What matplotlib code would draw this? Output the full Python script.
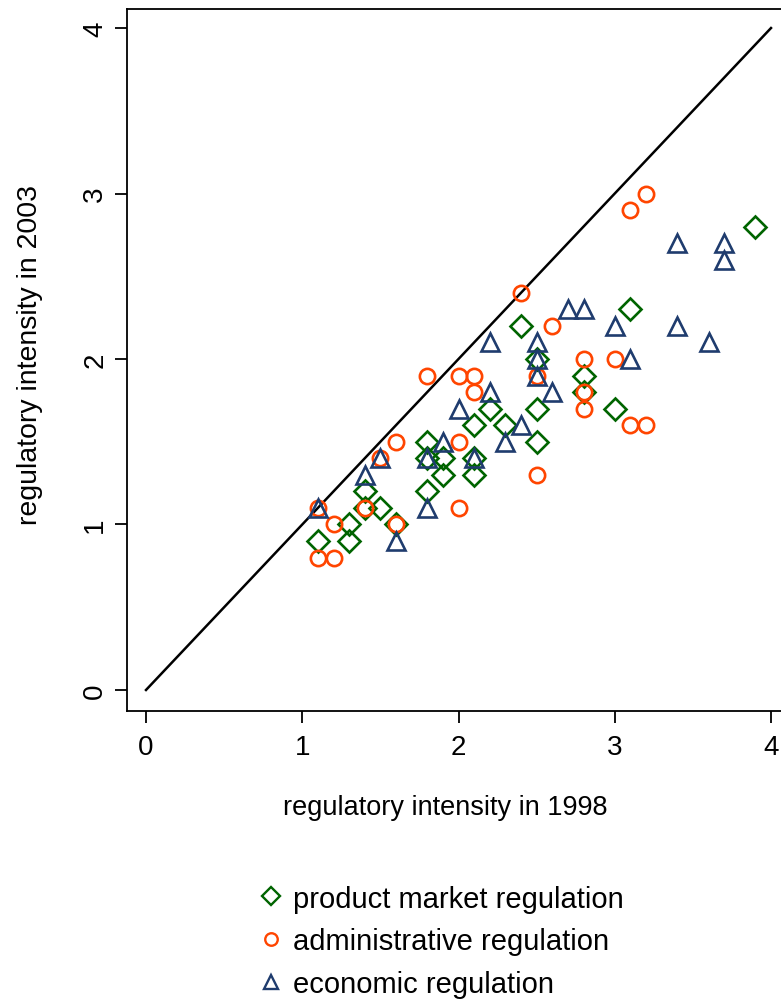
import matplotlib
matplotlib.use("Agg")
import matplotlib.pyplot as plt
from matplotlib.lines import Line2D

plt.rcParams['font.family'] = ['Liberation Sans', 'DejaVu Sans']

# product market regulation (diamonds)
prod_x = [1.1, 1.3, 1.3, 1.4, 1.4, 1.5, 1.6, 1.8, 1.8, 1.8, 1.9, 1.9, 2.1, 2.1, 2.1,
          2.2, 2.3, 2.4, 2.5, 2.5, 2.5, 2.8, 2.8, 3.0, 3.1, 3.9]
prod_y = [0.9, 1.0, 0.9, 1.2, 1.1, 1.1, 1.0, 1.2, 1.5, 1.4, 1.4, 1.3, 1.6, 1.4, 1.3,
          1.7, 1.6, 2.2, 2.0, 1.7, 1.5, 1.9, 1.8, 1.7, 2.3, 2.8]

# administrative regulation (circles)
adm_x = [1.1, 1.1, 1.2, 1.2, 1.4, 1.5, 1.6, 1.6, 1.8, 2.0, 2.0, 2.0, 2.1, 2.1, 2.4,
         2.5, 2.5, 2.6, 2.8, 2.8, 2.8, 3.0, 3.1, 3.1, 3.2, 3.2]
adm_y = [1.1, 0.8, 0.8, 1.0, 1.1, 1.4, 1.5, 1.0, 1.9, 1.9, 1.5, 1.1, 1.9, 1.8, 2.4,
         1.9, 1.3, 2.2, 2.0, 1.8, 1.7, 2.0, 2.9, 1.6, 3.0, 1.6]

# economic regulation (triangles)
eco_x = [1.1, 1.4, 1.5, 1.6, 1.8, 1.8, 1.9, 2.0, 2.1, 2.2, 2.2, 2.3, 2.4, 2.5, 2.5,
         2.5, 2.6, 2.7, 2.8, 3.0, 3.1, 3.4, 3.4, 3.6, 3.7, 3.7]
eco_y = [1.1, 1.3, 1.4, 0.9, 1.4, 1.1, 1.5, 1.7, 1.4, 2.1, 1.8, 1.5, 1.6, 2.1, 2.0,
         1.9, 1.8, 2.3, 2.3, 2.2, 2.0, 2.7, 2.2, 2.1, 2.7, 2.6]

labels = ["product market regulation", "administrative regulation", "economic regulation"]
ticks = [0, 1, 2, 3, 4]
diag = [0, 4]

green = "#006400"
orange = "#FF4500"
navy = "#1F3C6E"

W, H = 781, 1003
fig = plt.figure(figsize=(W / 100, H / 100), dpi=100)
ax = fig.add_axes([127 / W, 1 - 712 / H, (W - 127) / W, (712 - 10) / H])

ax.plot(diag, diag, color="black", lw=1.8, zorder=1)
ax.plot(prod_x, prod_y, ls="none", marker="D", ms=11.5, mfc="none", mec=green, mew=1.9, zorder=2)
ax.plot(adm_x, adm_y, ls="none", marker="o", ms=11, mfc="none", mec=orange, mew=1.9, zorder=3)
ax.plot(eco_x, eco_y, ls="none", marker="^", ms=12.5, mfc="none", mec=navy, mew=1.9, zorder=4)

ax.set_xlim(-0.1216, 4.064)
ax.set_ylim(-0.127, 4.115)
ax.set_xticks(ticks)
ax.set_yticks(ticks)
ax.set_xticklabels([str(t) for t in ticks], fontsize=20)
ax.set_yticklabels([str(t) for t in ticks], fontsize=20, rotation=90, va="center")
ax.tick_params(direction="out", length=8.5, width=1.3)
ax.tick_params(axis="x", pad=8)
ax.tick_params(axis="y", pad=5)
for s in ["left", "bottom", "top"]:
    ax.spines[s].set_linewidth(1.3)
ax.spines["right"].set_visible(False)

ax.set_xlabel("regulatory intensity in 1998", fontsize=19.5, labelpad=30)
ax.xaxis.set_label_coords((445 - 127) / (W - 127), -(808 - 712) / 702, transform=ax.transAxes)
ax.xaxis.label.set_va("center")
ax.set_ylabel("regulatory intensity in 2003", fontsize=20.5)
ax.yaxis.set_label_coords(-(127 - 30) / (W - 127), (712 - 355) / 702, transform=ax.transAxes)
ax.yaxis.label.set_va("center")

handles = [
    Line2D([], [], ls="none", marker="D", ms=9, mfc="none", mec=green, mew=1.7),
    Line2D([], [], ls="none", marker="o", ms=9, mfc="none", mec=orange, mew=1.7),
    Line2D([], [], ls="none", marker="^", ms=9.5, mfc="none", mec=navy, mew=1.7),
]
fig.legend(handles, labels, loc="upper left", bbox_to_anchor=(245 / W, 1 - 871 / H),
           frameon=False, fontsize=21, handlelength=0.8, handletextpad=0.35,
           labelspacing=0.5, borderpad=0)

fig.savefig("out.png", dpi=100)
